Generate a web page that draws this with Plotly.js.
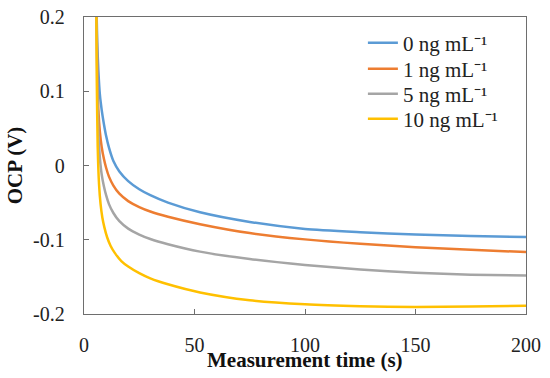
<!DOCTYPE html>
<html>
<head>
<meta charset="utf-8">
<script src="https://cdn.plot.ly/plotly-3.0.1.min.js"></script>
<style>html,body{margin:0;padding:0;background:#fff;}#chart{width:550px;height:378px;}</style>
</head>
<body>
<div id="chart"></div>
<script>
const seriesNames = ["0 ng mL\u207B\u00B9", "1 ng mL\u207B\u00B9", "5 ng mL\u207B\u00B9", "10 ng mL\u207B\u00B9"];
const seriesColors = ["#5B9BD5", "#ED7D31", "#A5A5A5", "#FFC000"];

const t0 = [5.6, 6.0, 6.5, 7.2, 8.0, 9.0, 10.0, 11.3, 13.3, 16, 20, 25, 30, 38, 52.5, 75, 100, 125, 150, 175, 200];
const v0 = [0.22, 0.165, 0.128, 0.095, 0.075, 0.056, 0.040, 0.024, 0.006, -0.008, -0.021, -0.032, -0.040, -0.050, -0.063, -0.076, -0.0855, -0.0898, -0.093, -0.095, -0.0963];

const t1 = [5.6, 6.0, 6.5, 7.2, 8.0, 9.0, 10.0, 11.3, 13.3, 16, 20, 25, 30, 38, 52.5, 75, 100, 125, 150, 175, 200];
const v1 = [0.22, 0.13, 0.075, 0.045, 0.025, 0.009, -0.003, -0.015, -0.027, -0.038, -0.048, -0.056, -0.062, -0.069, -0.079, -0.091, -0.0995, -0.1055, -0.110, -0.1135, -0.1166];

const t5 = [5.6, 6.0, 6.5, 7.2, 8.0, 9.0, 10.0, 11.3, 13.3, 16, 20, 25, 30, 38, 52.5, 75, 100, 125, 150, 175, 200];
const v5 = [0.22, 0.11, 0.045, 0.010, -0.012, -0.028, -0.040, -0.052, -0.064, -0.075, -0.085, -0.093, -0.099, -0.106, -0.116, -0.126, -0.134, -0.140, -0.1445, -0.147, -0.148];

const t10 = [5.5, 5.8, 6.2, 6.8, 7.5, 8.3, 9.2, 10.5, 12, 14, 17, 20, 25, 30, 38, 52.5, 75, 100, 125, 150, 175, 200];
const v10 = [0.25, 0.11, 0.025, -0.025, -0.052, -0.070, -0.083, -0.097, -0.108, -0.118, -0.129, -0.136, -0.145, -0.152, -0.160, -0.171, -0.1815, -0.187, -0.1895, -0.1905, -0.190, -0.189];

const xTicks = [0, 50, 100, 150, 200];
const yTicks = [-0.2, -0.1, 0, 0.1, 0.2];
const yTickText = ["-0.2", "-0.1", "0", "0.1", "0.2"];
const xTitle = "<b>Measurement time (s)</b>";
const yTitle = "<b>OCP (V)</b>";

const xs = [t0, t1, t5, t10];
const ys = [v0, v1, v5, v10];
const legendIds = ["legend", "legend2", "legend3", "legend4"];
const legendRowY = [0.9125, 0.825, 0.7407, 0.6566];

const traces = xs.map((x, i) => ({
  x: x, y: ys[i], name: seriesNames[i], type: "scatter", mode: "lines",
  legend: legendIds[i],
  line: {color: seriesColors[i], width: 2.5, shape: "spline", smoothing: 0.6}
}));

const font = "Liberation Serif, Times New Roman, serif";
const axisCommon = {
  showline: true, linecolor: "#6e6e6e", linewidth: 1.3, mirror: true,
  showgrid: false, zeroline: false, ticks: "inside", ticklen: 5, tickcolor: "#6e6e6e",
  tickfont: {family: font, size: 20, color: "#222"}
};

const layout = {
  width: 550, height: 378,
  margin: {l: 84, r: 24, t: 17, b: 64},
  paper_bgcolor: "#fff", plot_bgcolor: "#fff",
  font: {family: font, color: "#222"},
  showlegend: true,
  xaxis: Object.assign({}, axisCommon, {
    range: [0, 200], tickvals: xTicks, ticklabelstandoff: 13
  }),
  yaxis: Object.assign({}, axisCommon, {
    range: [-0.2, 0.2], tickvals: yTicks, ticktext: yTickText, ticklabelstandoff: 14,
    title: {text: yTitle, font: {family: font, size: 21, color: "#111"}, standoff: 4}
  }),
  annotations: [{
    text: xTitle, xref: "paper", yref: "paper", x: 0.5, y: -0.155,
    xanchor: "center", yanchor: "middle", showarrow: false,
    font: {family: font, size: 21, color: "#111"}
  }]
};
legendIds.forEach((id, i) => {
  layout[id] = {x: 0.631, y: legendRowY[i], xanchor: "left", yanchor: "middle",
    bgcolor: "rgba(0,0,0,0)", font: {family: font, size: 21, color: "#222"}};
});

Plotly.newPlot("chart", traces, layout, {displayModeBar: false, staticPlot: true});
</script>
</body>
</html>
